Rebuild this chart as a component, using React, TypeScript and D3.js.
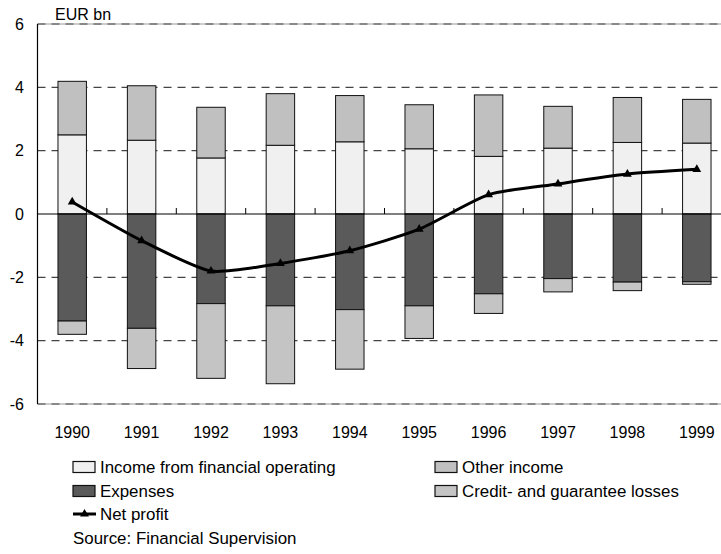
import React from "react";
import * as d3 from "d3";

const years = ["1990", "1991", "1992", "1993", "1994", "1995", "1996", "1997", "1998", "1999"];
const incomeFinancial = [2.5, 2.33, 1.77, 2.17, 2.28, 2.06, 1.82, 2.08, 2.26, 2.24];
const otherIncome = [1.69, 1.72, 1.6, 1.63, 1.46, 1.39, 1.94, 1.32, 1.42, 1.38];
const expenses = [-3.38, -3.61, -2.83, -2.9, -3.02, -2.9, -2.52, -2.04, -2.15, -2.14];
const creditLosses = [-0.42, -1.27, -2.36, -2.46, -1.88, -1.03, -0.62, -0.42, -0.27, -0.08];
const netProfit = [0.38, -0.84, -1.8, -1.56, -1.16, -0.48, 0.61, 0.95, 1.26, 1.41];
const yTicks = [-6, -4, -2, 0, 2, 4, 6];

const legendItems = [
  { label: "Income from financial operating", color: "#f0f0f0", kind: "rect", col: 0, row: 0 },
  { label: "Other income", color: "#c0c0c0", kind: "rect", col: 1, row: 0 },
  { label: "Expenses", color: "#5a5a5a", kind: "rect", col: 0, row: 1 },
  { label: "Credit- and guarantee losses", color: "#c4c4c4", kind: "rect", col: 1, row: 1 },
  { label: "Net profit", color: "#000", kind: "line", col: 0, row: 2 },
];

const W = 721;
const H = 554;
const FONT = "Arial, 'Liberation Sans', Helvetica, sans-serif";

export default function App() {
  const left = 37.5;
  const x = d3
    .scaleBand<string>()
    .domain(years)
    .range([left, left + 694])
    .paddingInner(0.59)
    .paddingOuter(0.295);
  const y = d3.scaleLinear().domain([-6, 6]).range([404, 24]);
  const cx = (i: number) => (x(years[i]) as number) + x.bandwidth() / 2;
  const right = left + 694;

  const line = d3
    .line<number>()
    .x((_, i) => cx(i))
    .y((d) => y(d))
    .curve(d3.curveCardinal.tension(0.35));

  const tri = d3.symbol().type(d3.symbolTriangle).size(34)() as string;

  const bars: { x: number; y0: number; y1: number; color: string }[] = [];
  years.forEach((yr, i) => {
    const bx = x(yr) as number;
    bars.push({ x: bx, y0: 0, y1: incomeFinancial[i], color: "#f0f0f0" });
    bars.push({ x: bx, y0: incomeFinancial[i], y1: incomeFinancial[i] + otherIncome[i], color: "#c0c0c0" });
    bars.push({ x: bx, y0: 0, y1: expenses[i], color: "#5a5a5a" });
    bars.push({ x: bx, y0: expenses[i], y1: expenses[i] + creditLosses[i], color: "#c4c4c4" });
  });

  const boundaries = years.slice(1).map((yr) => (x(yr) as number) - (x.step() - x.bandwidth()) / 2);

  return (
    <svg
      width={W}
      height={H}
      style={{ position: "absolute", left: 0, top: 0, background: "#fff" }}
      fontFamily={FONT}
    >
      {/* gridlines */}
      {yTicks
        .filter((t) => t !== 0)
        .map((t) => (
          <g key={t}>
            {(t === 6 || t === -6) && (
              <line x1={left} x2={right} y1={y(t)} y2={y(t)} stroke="#999" strokeWidth={1} />
            )}
            <line
              x1={left}
              x2={right}
              y1={y(t)}
              y2={y(t)}
              stroke="#444"
              strokeWidth={1.2}
              strokeDasharray="8,6"
            />
          </g>
        ))}
      {/* bars */}
      {bars.map((b, i) => (
        <rect
          key={i}
          x={b.x}
          width={x.bandwidth()}
          y={Math.min(y(b.y0), y(b.y1))}
          height={Math.abs(y(b.y1) - y(b.y0))}
          fill={b.color}
          stroke="#111"
          strokeWidth={1}
        />
      ))}
      {/* zero line and ticks */}
      <line x1={left} x2={right} y1={y(0)} y2={y(0)} stroke="#000" strokeWidth={1.2} />
      {boundaries.map((bx, i) => (
        <line key={i} x1={bx} x2={bx} y1={y(0)} y2={y(0) - 6} stroke="#000" strokeWidth={1} />
      ))}
      {/* left axis */}
      <line x1={left} x2={left} y1={y(6)} y2={y(-6)} stroke="#000" strokeWidth={1.2} />
      {yTicks.map((t) => (
        <text key={t} x={24} y={y(t)} dy="0.36em" textAnchor="end" fontSize={16} fill="#000">
          {t}
        </text>
      ))}
      <text x={55} y={20} fontSize={16} fill="#000">
        EUR bn
      </text>
      {/* net profit line */}
      <path d={line(netProfit) as string} fill="none" stroke="#000" strokeWidth={3} />
      {netProfit.map((v, i) => (
        <path key={i} d={tri} transform={`translate(${cx(i)},${y(v)})`} fill="#000" />
      ))}
      {/* x labels */}
      {years.map((yr, i) => (
        <text key={yr} x={cx(i)} y={438} textAnchor="middle" fontSize={16} fill="#000">
          {yr}
        </text>
      ))}
      {/* legend */}
      {legendItems.map((it) => {
        const lx = it.col === 0 ? 73 : 435;
        const ly = [467, 491, 514][it.row];
        return (
          <g key={it.label}>
            {it.kind === "rect" ? (
              <rect x={lx} y={ly - 5.5} width={22} height={11} fill={it.color} stroke="#111" strokeWidth={1.2} />
            ) : (
              <g>
                <line x1={lx} x2={lx + 23} y1={ly} y2={ly} stroke="#000" strokeWidth={3} />
                <path d={tri} transform={`translate(${lx + 11.5},${ly})`} fill="#000" />
              </g>
            )}
            <text x={lx + 27} y={ly} dy="0.36em" fontSize={16.9} fill="#000">
              {it.label}
            </text>
          </g>
        );
      })}
      <text x={73} y={538} dy="0.36em" fontSize={16.9} fill="#000">
        Source: Financial Supervision
      </text>
    </svg>
  );
}
